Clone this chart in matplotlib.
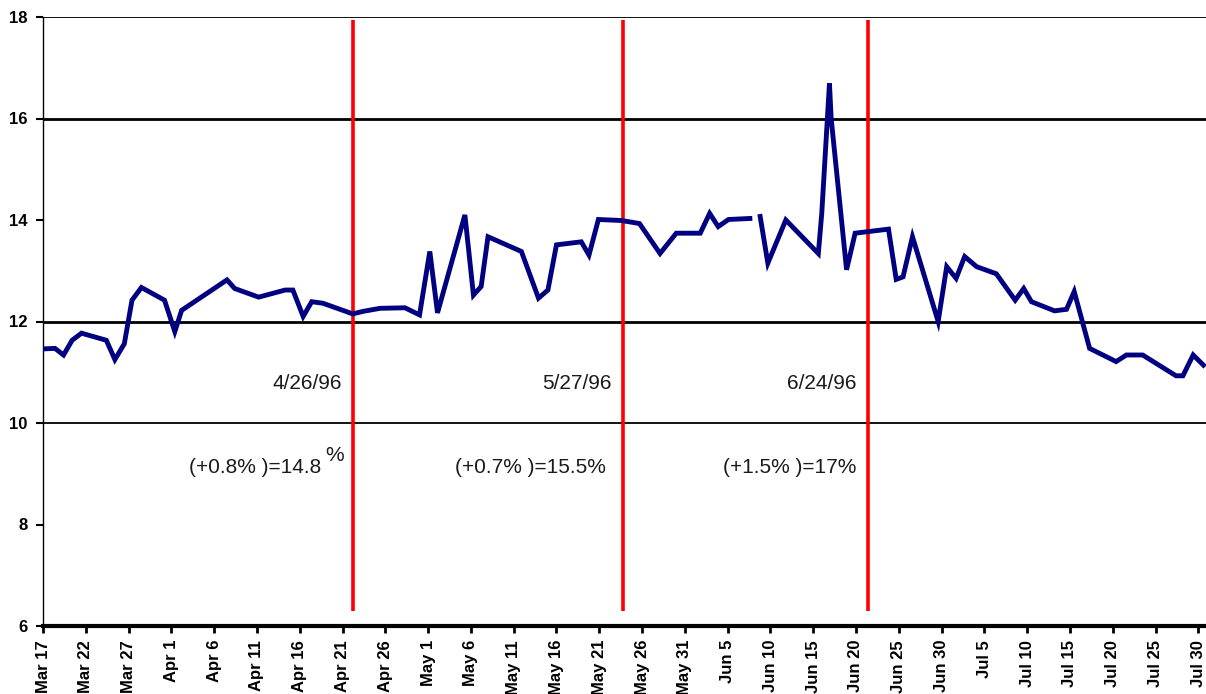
import numpy as np
import matplotlib
matplotlib.use("Agg")
import matplotlib.pyplot as plt

# days since Mar 17, 1996
days = [0, 1.4, 2.4, 3.4, 4.5, 7.4, 8.4, 9.5, 10.4, 11.5, 14.2, 15.4, 16.2, 21.5, 22.4,
        25.2, 28.3, 29.2, 30.4, 31.4, 32.7, 36.2, 37.4, 39.4, 42.3, 44.0, 45.2, 46.1,
        49.3, 50.3, 51.2, 52.0, 55.9, 57.9, 59.0, 60.0, 62.9, 63.8, 64.9, 67.6, 69.7,
        72.1, 74.0, 76.8, 77.9, 78.9, 80.1, 82.6, 83.2, 83.8, 84.7, 86.8, 90.6, 91.0,
        91.9, 92.1, 93.9, 94.9, 98.8, 99.7, 100.5, 101.6, 104.6, 105.6, 106.7, 107.7,
        109.1, 111.4, 113.6, 114.6, 115.5, 118.2, 119.6, 120.5, 122.3, 125.4, 126.6,
        128.5, 132.4, 133.2, 134.4, 135.6]
values = [11.46, 11.47, 11.34, 11.63, 11.77, 11.63, 11.25, 11.56, 12.42, 12.67, 12.42,
          11.80, 12.22, 12.82, 12.65, 12.48, 12.62, 12.62, 12.10, 12.39, 12.36, 12.15,
          12.20, 12.26, 12.27, 12.13, 13.38, 12.17, 14.10, 12.52, 12.69, 13.67, 13.38,
          12.46, 12.62, 13.51, 13.57, 13.31, 14.01, 13.99, 13.93, 13.34, 13.74, 13.74,
          14.13, 13.87, 14.01, 14.03, np.nan, 14.07, 13.15, 14.00, 13.34, 14.13, 16.69,
          16.0, 13.02, 13.74, 13.82, 12.83, 12.88, 13.67, 12.00, 13.08, 12.85, 13.28,
          13.08, 12.94, 12.42, 12.65, 12.39, 12.21, 12.24, 12.59, 11.47, 11.21, 11.34,
          11.34, 10.93, 10.93, 11.34, 11.14]

tick_labels = ["Mar 17", "Mar 22", "Mar 27", "Apr 1", "Apr 6", "Apr 11", "Apr 16",
               "Apr 21", "Apr 26", "May 1", "May 6", "May 11", "May 16", "May 21",
               "May 26", "May 31", "Jun 5", "Jun 10", "Jun 15", "Jun 20", "Jun 25",
               "Jun 30", "Jul 5", "Jul 10", "Jul 15", "Jul 20", "Jul 25", "Jul 30"]

event_days = [36.2, 67.8, 96.4]
event_labels = ["4/26/96", "5/27/96", "6/24/96"]
event_notes = ["(+0.8% )=14.8", "(+0.7% )=15.5%", "(+1.5% )=17%"]

plt.rcParams['font.family'] = ['Liberation Sans', 'DejaVu Sans']

fig = plt.figure(figsize=(12.06, 6.94), dpi=100)
ax = fig.add_axes([43/1206, 1 - 626/694, 1 - 43/1206, (626 - 17)/694])

ax.set_xlim(0, 135.9)
ax.set_ylim(6, 18)

# gridlines
for yv, lw in [(10, 1.3), (12, 2.0), (16, 2.0), (18, 1.3)]:
    ax.axhline(yv, color='black', lw=lw, zorder=1)

# red event lines
for d in event_days:
    ax.plot([d, d], [6.3, 17.94], color='#ff0000', lw=2.6, zorder=3, solid_capstyle='butt')

ax.plot(days, values, color='#000080', lw=3.5, zorder=4, solid_joinstyle='miter')

# annotations
txt_kw = dict(fontsize=15, color='#1a1a1a', zorder=5)
ax.text(event_days[0] - 1.3, 10.77, event_labels[0], ha='right', va='center', **txt_kw)
ax.text(event_days[1] - 1.3, 10.77, event_labels[1], ha='right', va='center', **txt_kw)
ax.text(event_days[2] - 1.3, 10.77, event_labels[2], ha='right', va='center', **txt_kw)
ax.text(event_days[0] - 3.7, 9.12, event_notes[0], ha='right', va='center', **txt_kw)
ax.text(event_days[0] - 1.0, 9.35, "%", ha='right', va='center', **txt_kw)
ax.text(event_days[1] - 2.0, 9.12, event_notes[1], ha='right', va='center', **txt_kw)
ax.text(event_days[2] - 1.3, 9.12, event_notes[2], ha='right', va='center', **txt_kw)

# axes styling
ax.set_xticks(np.arange(len(tick_labels)) * 5)
ax.set_xticklabels(tick_labels, rotation=90, fontsize=12, fontweight='bold')
ax.set_yticks([6, 8, 10, 12, 14, 16, 18])
ax.set_yticklabels(["6", "8", "10", "12", "14", "16", "18"], fontsize=12, fontweight='bold')
ax.tick_params(axis='x', direction='out', length=5, width=2, pad=5)
ax.tick_params(axis='y', direction='out', length=5, width=1.5, pad=6)

ax.spines['right'].set_visible(False)
ax.spines['top'].set_visible(False)
ax.spines['bottom'].set_linewidth(3)
ax.spines['left'].set_linewidth(1)
ax.spines['bottom'].set_zorder(6)

fig.savefig("out.png", dpi=100)
